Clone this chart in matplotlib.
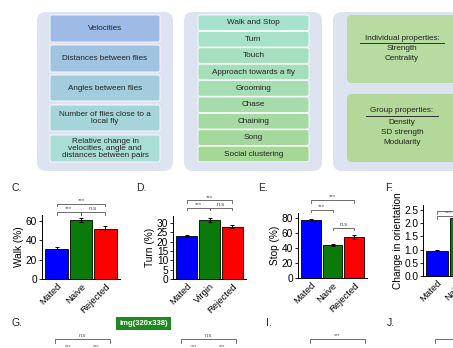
import matplotlib
matplotlib.use("Agg")
import matplotlib.pyplot as plt
from matplotlib.patches import FancyBboxPatch, Rectangle
import numpy as np

plt.rcParams['font.family'] = ['Liberation Sans', 'DejaVu Sans']

W, H = 453, 348

# top boxes text
features = ["Velocities", "Distances between flies", "Angles between flies",
            "Number of flies close to a\nlocal fly",
            "Relative change in\nvelocities, angle and\ndistances between pairs"]
behaviors = ["Walk and Stop", "Turn", "Touch", "Approach towards a fly", "Grooming",
             "Chase", "Chaining", "Song", "Social clustering"]
indiv_props = ["Strength", "Centrality"]
group_props = ["Density", "SD strength", "Modularity"]

# bar panels
groups_mnr = ["Mated", "Naive", "Rejected"]
groups_mvr = ["Mated", "Virgin", "Rejected"]
walk = [31, 61, 52]
walk_err = [2, 2, 2.5]
turn = [23, 31.5, 28]
turn_err = [0.4, 1.2, 0.8]
stop = [77, 44, 55]
stop_err = [1.5, 1.5, 2.5]
orient = [0.93, 2.2, 2.0]
orient_err = [0.04, 0.1, 0.1]

bar_colors = ["#0000ff", "#0a7a0a", "#ff0000"]

fig = plt.figure(figsize=(W / 100, H / 100), dpi=100)


def px(x0, y0, x1, y1):
    return [x0 / W, 1 - y1 / H, (x1 - x0) / W, (y1 - y0) / H]


# overlay in pixel coordinates
ov = fig.add_axes([0, 0, 1, 1])
ov.set_xlim(0, W)
ov.set_ylim(H, 0)
ov.axis("off")


def mix(c1, c2, t):
    a = np.array(matplotlib.colors.to_rgb(c1))
    b = np.array(matplotlib.colors.to_rgb(c2))
    return a + (b - a) * t


def rbox(x0, y0, x1, y1, fc, r=6, ec="none", lw=0):
    p = FancyBboxPatch((x0, y0), x1 - x0, y1 - y0,
                       boxstyle=f"round,pad=0,rounding_size={r}",
                       fc=fc, ec=ec, lw=lw, mutation_aspect=1)
    ov.add_patch(p)


outer = "#dde3f1"
rbox(37, 12, 173, 171, outer, r=9)
rbox(184, 12, 322, 171, outer, r=9)
rbox(333, 12, 470, 171, outer, r=9)

fs_box = 5.9
# left column
left_y = [(15, 42), (45, 72), (75, 101), (105, 131), (135, 162)]
for i, (txt, (y0, y1)) in enumerate(zip(features, left_y)):
    c = mix("#9dbbe6", "#a9ddd5", i / (len(features) - 1))
    rbox(50, y0, 160, y1, c, r=2, ec="white", lw=0.6)
    ov.text(105, (y0 + y1) / 2, txt, ha="center", va="center", fontsize=fs_box,
            color="#222222", linespacing=0.95)

# middle column
for i, txt in enumerate(behaviors):
    y0 = 15 + i * 16.4
    c = mix("#a7e2cf", "#a5d795", i / (len(behaviors) - 1))
    rbox(198, y0, 309, y0 + 15.6, c, r=2, ec="white", lw=0.6)
    ov.text(253.5, y0 + 7.8, txt, ha="center", va="center", fontsize=fs_box, color="#222222")

# right column
rbox(347, 15, 470, 83, "#b7dba0", r=5)
rbox(347, 94, 470, 162, "#b3d89a", r=5)
ov.text(402, 38, "Individual properties:", ha="center", va="center", fontsize=fs_box, color="#222222")
ov.plot([360, 444], [42.5, 42.5], color="#333333", lw=0.7, zorder=5)
for k, t in enumerate(indiv_props):
    ov.text(402, 48.5 + k * 10.5, t, ha="center", va="center", fontsize=fs_box, color="#222222")
ov.text(402, 111, "Group properties:", ha="center", va="center", fontsize=fs_box, color="#222222")
ov.plot([366, 438], [115.5, 115.5], color="#333333", lw=0.7, zorder=5)
for k, t in enumerate(group_props):
    ov.text(402, 122 + k * 10.5, t, ha="center", va="center", fontsize=fs_box, color="#222222")

# panel letters
for lab, x, y in [("C.", 11, 188), ("D.", 136, 188), ("E.", 258, 188), ("F.", 385, 188),
                  ("G.", 11, 323), ("I.", 266, 323), ("J.", 387, 323)]:
    ov.text(x, y, lab, ha="left", va="center", fontsize=7.5, color="#222222")

# img label
ov.add_patch(Rectangle((116, 317), 55, 13, fc="#1d8a1d", ec="none"))
ov.text(143.5, 323.5, "img(320x338)", ha="center", va="center", fontsize=5.5,
        color="white", fontweight="bold")

# bottom row brackets (partially visible)
def pbracket(x0, x1, y, txt, ov=ov):
    ov.plot([x0, x0, x1, x1], [y + 4, y, y, y + 4], color="#555555", lw=0.6)
    ov.text((x0 + x1) / 2, y - 1, txt, ha="center", va="bottom", fontsize=4, color="#555555")


pbracket(55, 110, 339, "n.s")
pbracket(181, 236, 339, "n.s")
pbracket(310, 365, 339, "***")
pbracket(435, 500, 339, "")
for x in (68, 96, 194, 222):
    ov.text(x, 347, "***", ha="center", va="center", fontsize=4, color="#555555")


def bar_panel(rect, vals, errs, cats, ylim, ticks, ylabel, brackets):
    ax = fig.add_axes(px(*rect))
    x = np.arange(len(vals))
    ax.bar(x, vals, width=0.92, color=bar_colors[:len(vals)], edgecolor="black", lw=0.6)
    ax.errorbar(x, vals, yerr=errs, fmt="none", ecolor="black", elinewidth=0.7,
                capsize=1.5, capthick=0.7)
    ax.set_xlim(-0.6, len(vals) - 0.4)
    ax.set_ylim(*ylim)
    ax.set_yticks(ticks)
    ax.set_xticks(x)
    ax.set_xticklabels(cats, rotation=45, ha="right", rotation_mode="anchor", fontsize=6.8)
    ax.tick_params(axis="y", labelsize=7.3, length=2.5, width=0.6, pad=1)
    ax.tick_params(axis="x", length=0, pad=2)
    ax.set_ylabel(ylabel, fontsize=7.3, labelpad=1)
    for s in ("top", "right"):
        ax.spines[s].set_visible(False)
    for s in ("left", "bottom"):
        ax.spines[s].set_linewidth(0.7)
    ax.patch.set_alpha(0)
    leg = (ylim[1] - ylim[0]) * 0.04
    for a, b, y, t in brackets:
        ax.plot([a, a, b, b], [y - leg, y, y, y - leg], color="#555555", lw=0.6, clip_on=False)
        ax.text((a + b) / 2, y + leg * 0.3, t, ha="center", va="bottom", fontsize=4.5,
                color="#555555", clip_on=False)
    return ax


bar_panel((42, 215, 120, 279), walk, walk_err, groups_mnr, (0, 66.2), [0, 20, 40, 60], "Walk (%)",
          [(0, 1, 69.3, "***"), (1, 2, 69.3, "n.s"), (0, 2, 78, "***")])
bar_panel((173, 216, 246, 279), turn, turn_err, groups_mvr, (0, 33.7), [0, 5, 10, 15, 20, 25, 30],
          "Turn (%)",
          [(0, 1, 38, "***"), (1, 2, 38, "n.s"), (0, 2, 42, "***")])
bar_panel((298, 213, 367, 278), stop, stop_err, groups_mnr, (0, 86.7), [0, 20, 40, 60, 80], "Stop (%)",
          [(0, 1, 91, "***"), (1, 2, 67, "n.s"), (0, 2, 104, "***")])
axf = bar_panel((423, 205, 498, 276), orient, orient_err, groups_mnr, (0, 2.69),
                [0.0, 0.5, 1.0, 1.5, 2.0, 2.5], "Change in orientation",
                [(0, 1, 2.27, "***"), (0, 2, 2.46, "***")])
axf.set_yticklabels(["0.0", "0.5", "1.0", "1.5", "2.0", "2.5"])

fig.savefig("out.png", dpi=100)
